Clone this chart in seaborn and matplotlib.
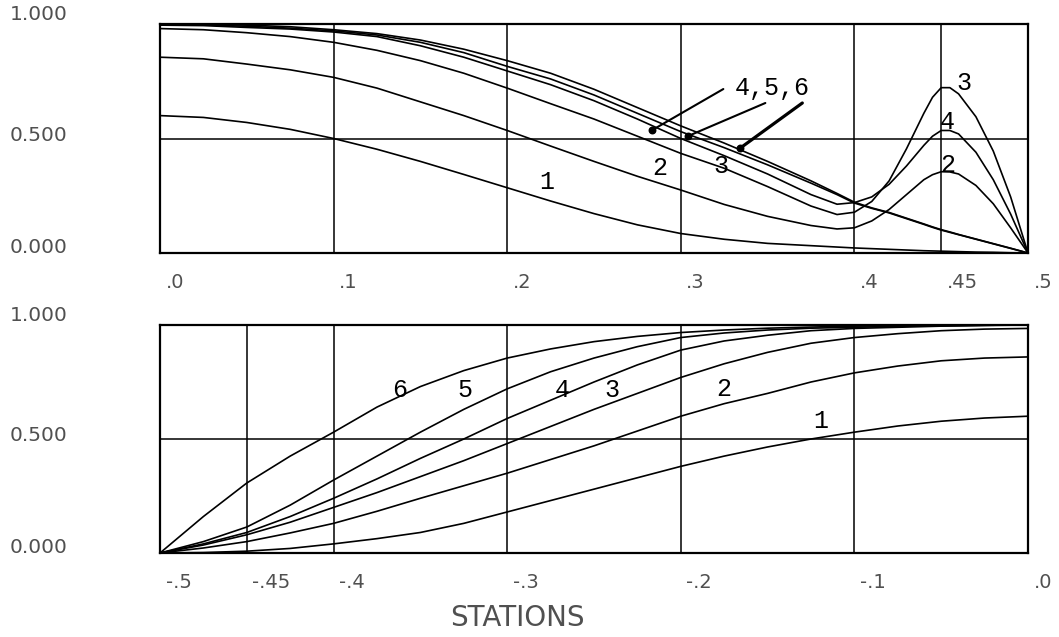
import numpy as np
import pandas as pd
import matplotlib
matplotlib.use("Agg")
import matplotlib.pyplot as plt
from matplotlib.transforms import offset_copy
import seaborn as sns

# ---------------- data ----------------
x_top = [0.0, 0.025, 0.05, 0.075, 0.1, 0.125, 0.15, 0.175, 0.2, 0.225, 0.25, 0.275,
         0.3, 0.325, 0.35, 0.375, 0.39, 0.4, 0.41, 0.42, 0.43, 0.44, 0.445, 0.45, 0.455,
         0.46, 0.47, 0.48, 0.49, 0.5]
top_c1 = [0.600, 0.592, 0.570, 0.540, 0.500, 0.453, 0.400, 0.343, 0.285, 0.227, 0.172, 0.123,
          0.085, 0.060, 0.042, 0.032, 0.026, 0.022, 0.019, 0.016, 0.013, 0.010, 0.009, 0.008, 0.007,
          0.006, 0.004, 0.003, 0.001, 0.0]
top_c2 = [0.855, 0.848, 0.825, 0.800, 0.767, 0.720, 0.660, 0.600, 0.535, 0.467, 0.400, 0.335,
          0.275, 0.212, 0.160, 0.120, 0.105, 0.110, 0.140, 0.190, 0.255, 0.320, 0.342, 0.355, 0.354,
          0.345, 0.295, 0.215, 0.110, 0.0]
top_c3 = [0.980, 0.975, 0.962, 0.945, 0.920, 0.885, 0.840, 0.785, 0.720, 0.652, 0.585, 0.510,
          0.435, 0.370, 0.290, 0.205, 0.168, 0.178, 0.225, 0.315, 0.455, 0.610, 0.680, 0.722, 0.722,
          0.695, 0.595, 0.445, 0.245, 0.0]
top_c4 = [0.995, 0.993, 0.985, 0.978, 0.965, 0.945, 0.905, 0.855, 0.795, 0.735, 0.665, 0.585,
          0.500, 0.425, 0.345, 0.255, 0.213, 0.220, 0.245, 0.300, 0.380, 0.470, 0.510, 0.535, 0.535,
          0.520, 0.440, 0.320, 0.170, 0.0]
top_c5 = [0.998, 0.996, 0.990, 0.982, 0.970, 0.952, 0.920, 0.875, 0.815, 0.760, 0.690, 0.610,
          0.530, 0.460, 0.385, 0.305, 0.255, 0.218, 0.195, 0.175, 0.150, 0.125, 0.112, 0.100, 0.090,
          0.080, 0.060, 0.040, 0.020, 0.0]
top_c6 = [1.000, 0.999, 0.995, 0.988, 0.975, 0.958, 0.930, 0.890, 0.840, 0.785, 0.715, 0.635,
          0.555, 0.480, 0.400, 0.315, 0.260, 0.222, 0.197, 0.177, 0.152, 0.127, 0.114, 0.102, 0.092,
          0.081, 0.061, 0.041, 0.021, 0.0]

x_bot = [-0.5, -0.475, -0.45, -0.425, -0.4, -0.375, -0.35, -0.325, -0.3, -0.275, -0.25,
         -0.225, -0.2, -0.175, -0.15, -0.125, -0.1, -0.075, -0.05, -0.025, 0.0]
bot_c1 = [0.0, 0.002, 0.008, 0.020, 0.040, 0.063, 0.090, 0.130, 0.180, 0.230, 0.280,
          0.330, 0.380, 0.425, 0.465, 0.500, 0.530, 0.557, 0.578, 0.592, 0.600]
bot_c2 = [0.0, 0.022, 0.050, 0.088, 0.130, 0.183, 0.240, 0.295, 0.350, 0.410, 0.470,
          0.535, 0.600, 0.655, 0.700, 0.750, 0.790, 0.820, 0.843, 0.855, 0.860]
bot_c3 = [0.0, 0.035, 0.080, 0.135, 0.200, 0.265, 0.335, 0.405, 0.480, 0.555, 0.630,
          0.700, 0.770, 0.830, 0.880, 0.920, 0.945, 0.962, 0.975, 0.982, 0.985]
bot_c4 = [0.0, 0.040, 0.090, 0.160, 0.240, 0.325, 0.415, 0.500, 0.590, 0.670, 0.750,
          0.825, 0.890, 0.930, 0.955, 0.975, 0.985, 0.990, 0.995, 0.998, 1.000]
bot_c5 = [0.0, 0.050, 0.114, 0.210, 0.320, 0.425, 0.530, 0.630, 0.720, 0.795, 0.855,
          0.905, 0.945, 0.965, 0.978, 0.986, 0.990, 0.994, 0.997, 0.999, 1.000]
bot_c6 = [0.0, 0.160, 0.307, 0.425, 0.530, 0.640, 0.730, 0.800, 0.855, 0.895, 0.927,
          0.950, 0.967, 0.978, 0.986, 0.991, 0.995, 0.997, 0.998, 0.999, 1.000]

curve_names = ["1", "2", "3", "4", "5", "6"]

top_ticks = [0.0, 0.1, 0.2, 0.3, 0.4, 0.45, 0.5]
top_tick_labels = [".0", ".1", ".2", ".3", ".4", ".45", ".5"]
bot_ticks = [-0.5, -0.45, -0.4, -0.3, -0.2, -0.1, 0.0]
bot_tick_labels = ["-.5", "-.45", "-.4", "-.3", "-.2", "-.1", ".0"]
y_ticks = [0.0, 0.5, 1.0]
y_tick_labels = ["0.000", "0.500", "1.000"]
x_label = "STATIONS"

# curve labels (text, x, y)
top_labels = [("1", 0.223, 0.31), ("2", 0.2876, 0.372), ("3", 0.3232, 0.381),
              ("3", 0.4628, 0.742), ("4", 0.4536, 0.572), ("2", 0.4536, 0.384)]
group_label = ("4,5,6", 0.3527, 0.72)
arrow_tails = [(0.3245, 0.716), (0.3487, 0.655), (0.370, 0.655)]
arrow_heads = [(0.2836, 0.537), (0.3043, 0.511), (0.3343, 0.4585)]
bot_labels = [("6", -0.3617, 0.715), ("5", -0.3242, 0.715), ("4", -0.2683, 0.715),
              ("3", -0.2395, 0.715), ("2", -0.1755, 0.718), ("1", -0.1196, 0.580)]

# ---------------- frames ----------------
top_df = pd.concat([pd.DataFrame({"x": x_top, "y": v, "curve": n})
                    for n, v in zip(curve_names, [top_c1, top_c2, top_c3, top_c4, top_c5, top_c6])])
bot_df = pd.concat([pd.DataFrame({"x": x_bot, "y": v, "curve": n})
                    for n, v in zip(curve_names, [bot_c1, bot_c2, bot_c3, bot_c4, bot_c5, bot_c6])])

sns.set_style("white")
plt.rcParams["font.family"] = ["DejaVu Sans"]

fig = plt.figure(figsize=(10.59, 6.37), dpi=100)
W, H = 1059, 637
ax_top = fig.add_axes([160 / W, 1 - 253 / H, 868 / W, 229 / H])
ax_bot = fig.add_axes([160 / W, 1 - 553 / H, 868 / W, 228 / H])

tick_color = "#505050"
label_font = dict(family="Liberation Mono", fontsize=18, color="black")

for ax, df, ticks, tlabels, xlim in [
        (ax_top, top_df, top_ticks, top_tick_labels, (0.0, 0.5)),
        (ax_bot, bot_df, bot_ticks, bot_tick_labels, (-0.5, 0.0))]:
    sns.lineplot(data=df, x="x", y="y", units="curve", estimator=None, color="black",
                 linewidth=1.2, sort=False, legend=False, ax=ax)
    ax.set_xlim(*xlim)
    ax.set_ylim(0, 1)
    ax.set_xticks(ticks)
    ax.set_yticks(y_ticks)
    ax.grid(True, color="black", linewidth=1.1)
    ax.tick_params(length=0, labelbottom=False, labelleft=False)
    ax.set_xlabel("")
    ax.set_ylabel("")
    for s in ax.spines.values():
        s.set_color("black")
        s.set_linewidth(1.6)
    # x tick labels, left-aligned just right of the grid line
    xtr = offset_copy(ax.get_xaxis_transform(), fig=fig, x=4, y=0, units="points")
    for t, lab in zip(ticks, tlabels):
        ax.text(t, -0.131, lab, transform=xtr, ha="left", va="center",
                fontsize=14, color=tick_color)
    # y tick labels, slightly above their line
    for t, lab, dy in zip(y_ticks, y_tick_labels, [4.3, 2.2, 6.5]):
        ytr = offset_copy(ax.get_yaxis_transform(), fig=fig, x=0, y=dy, units="points")
        ax.text(-0.173, t, lab, transform=ytr, ha="left", va="center",
                fontsize=14.5, color=tick_color)

for txt, x, y in top_labels:
    ax_top.text(x, y, txt, ha="center", va="center", **label_font)
ax_top.text(group_label[1], group_label[2], group_label[0], ha="center", va="center", **label_font)
for (tx, ty), (hx, hy), lw in zip(arrow_tails, arrow_heads, [1.5, 1.5, 2.3]):
    ax_top.annotate("", xy=(hx, hy), xytext=(tx, ty),
                    arrowprops=dict(arrowstyle="-", color="black", lw=lw,
                                    shrinkA=0, shrinkB=0))
ax_top.scatter([h[0] for h in arrow_heads], [h[1] for h in arrow_heads],
               s=22, color="black", zorder=5)

for txt, x, y in bot_labels:
    ax_bot.text(x, y, txt, ha="center", va="center", **label_font)

fig.text(517 / W, 1 - 618 / H, x_label, ha="center", va="center",
         fontsize=20, color=tick_color)

fig.savefig("out.png", dpi=100)
